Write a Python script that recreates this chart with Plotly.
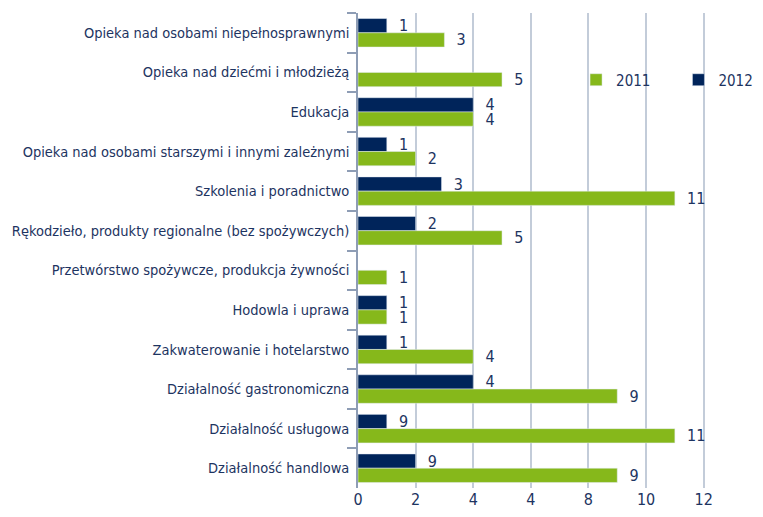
import plotly.graph_objects as go

categories = [
    "Opieka nad osobami niepełnosprawnymi",
    "Opieka nad dziećmi i młodzieżą",
    "Edukacja",
    "Opieka nad osobami starszymi i innymi zależnymi",
    "Szkolenia i poradnictwo",
    "Rękodzieło, produkty regionalne (bez spożywczych)",
    "Przetwórstwo spożywcze, produkcja żywności",
    "Hodowla i uprawa",
    "Zakwaterowanie i hotelarstwo",
    "Działalność gastronomiczna",
    "Działalność usługowa",
    "Działalność handlowa",
]
values_2011 = [3, 5, 4, 2, 11, 5, 1, 1, 4, 9, 11, 9]
values_2012 = [1, None, 4, 1, 2.9, 2, None, 1, 1, 4, 1, 2]
# labels as printed in the source (they do not always match the bar length)
labels_2011 = ["3", "5", "4", "2", "11", "5", "1", "1", "4", "9", "11", "9"]
labels_2012 = ["1", "", "4", "1", "3", "2", "", "1", "1", "4", "9", "9"]
tick_vals = [0, 2, 4, 6, 8, 10, 12]
tick_text = ["0", "2", "4", "4", "8", "10", "12"]

GREEN = "#86b81b"
NAVY = "#00245a"
TEXT = "#1d3461"
FONT = "DejaVu Sans Condensed, sans-serif"
PAD = "\u00a0\u00a0"

fig = go.Figure()
# 2012 first so it sits on top inside each group (reversed category axis)
fig.add_trace(go.Bar(
    y=categories, x=values_2012, name="2012", orientation="h", legend="legend2",
    marker=dict(color=NAVY), text=labels_2012, texttemplate=PAD + "%{text}",
    textposition="outside", constraintext="none",
    textfont=dict(size=16, color=TEXT, family=FONT), cliponaxis=False,
))
fig.add_trace(go.Bar(
    y=categories, x=values_2011, name="2011", orientation="h", legend="legend",
    marker=dict(color=GREEN), text=labels_2011, texttemplate=PAD + "%{text}",
    textposition="outside", constraintext="none",
    textfont=dict(size=16, color=TEXT, family=FONT), cliponaxis=False,
))

# page body adds an 8px offset, so the figure is 8px smaller than the window
leg = dict(orientation="h", xanchor="left", yanchor="middle", y=0.859,
           bgcolor="rgba(0,0,0,0)", font=dict(size=15, color=TEXT, family=FONT))
fig.update_layout(
    width=755, height=509,
    margin=dict(l=350, r=55, t=5, b=29, autoexpand=False),
    paper_bgcolor="white", plot_bgcolor="white",
    barmode="group", bargap=0.28, bargroupgap=0,
    font=dict(family=FONT, size=14.5, color=TEXT),
    legend=dict(leg, x=0.623),
    legend2=dict(leg, xref="container", x=0.888),
    showlegend=True,
)
fig.update_xaxes(
    range=[0, 12.15], tickvals=tick_vals, ticktext=tick_text,
    showgrid=True, gridcolor="#c3ccd9", gridwidth=1.5, zeroline=False,
    showline=False, ticks="", tickfont=dict(size=16, color=TEXT),
    automargin=False,
)
fig.update_yaxes(
    autorange="reversed", type="category", tickson="boundaries",
    ticks="outside", ticklen=9, tickcolor="#8e9db5", tickwidth=1.5,
    showline=True, linecolor="#8e9db5", linewidth=1.5, automargin=False,
    showgrid=False, tickfont=dict(size=14.5, color=TEXT), ticklabelstandoff=4,
)

fig.write_html("out.html")
